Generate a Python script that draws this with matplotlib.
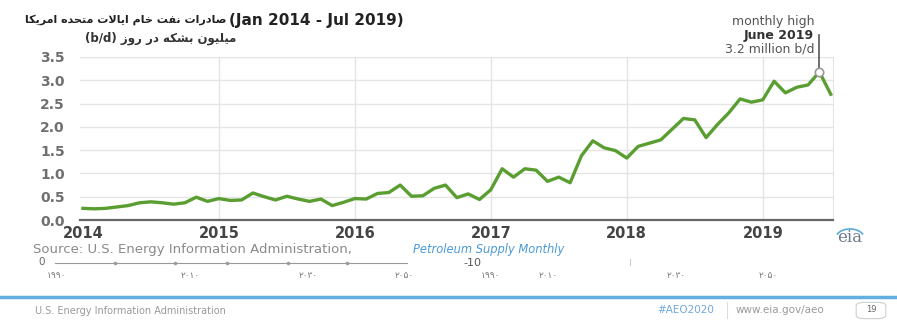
import numpy as np
import matplotlib
matplotlib.use("Agg")
import matplotlib.pyplot as plt
from matplotlib.lines import Line2D
from matplotlib.patches import FancyBboxPatch

# monthly US crude oil exports, million b/d, Jan 2014 .. Jul 2019
exports = [
    0.25, 0.24, 0.25, 0.28, 0.31, 0.37, 0.39, 0.37, 0.34, 0.37, 0.49, 0.40,  # 2014
    0.46, 0.42, 0.43, 0.58, 0.50, 0.43, 0.51, 0.45, 0.40, 0.45, 0.31, 0.38,  # 2015
    0.46, 0.45, 0.57, 0.59, 0.75, 0.51, 0.52, 0.68, 0.75, 0.48, 0.56, 0.44,  # 2016
    0.65, 1.10, 0.92, 1.10, 1.07, 0.83, 0.92, 0.80, 1.38, 1.70, 1.55, 1.49,  # 2017
    1.33, 1.58, 1.65, 1.72, 1.95, 2.18, 2.15, 1.77, 2.05, 2.30, 2.60, 2.53,  # 2018
    2.58, 2.98, 2.73, 2.85, 2.90, 3.18, 2.70,                                # 2019
]
years = ["2014", "2015", "2016", "2017", "2018", "2019"]
y_ticks = [0.0, 0.5, 1.0, 1.5, 2.0, 2.5, 3.0, 3.5]
high_month = 65  # June 2019

title_fa = "صادرات نفت خام ایالات متحده امریکا"
title_en = "(Jan 2014 - Jul 2019)"
unit_fa = "میلیون بشکه در روز"
note_lines = ["monthly high", "June 2019", "3.2 million b/d"]
fa_digits = ["۱۹۹۰", "۲۰۱۰", "۲۰۳۰", "۲۰۵۰"]

W, H = 897, 320

FORMS = {
    'ا': ('\uFE8D', '\uFE8E', None, None),
    'ب': ('\uFE8F', '\uFE90', '\uFE91', '\uFE92'),
    'ت': ('\uFE95', '\uFE96', '\uFE97', '\uFE98'),
    'ح': ('\uFEA1', '\uFEA2', '\uFEA3', '\uFEA4'),
    'خ': ('\uFEA5', '\uFEA6', '\uFEA7', '\uFEA8'),
    'د': ('\uFEA9', '\uFEAA', None, None),
    'ر': ('\uFEAD', '\uFEAE', None, None),
    'ز': ('\uFEAF', '\uFEB0', None, None),
    'ش': ('\uFEB5', '\uFEB6', '\uFEB7', '\uFEB8'),
    'ص': ('\uFEB9', '\uFEBA', '\uFEBB', '\uFEBC'),
    'ف': ('\uFED1', '\uFED2', '\uFED3', '\uFED4'),
    'ل': ('\uFEDD', '\uFEDE', '\uFEDF', '\uFEE0'),
    'م': ('\uFEE1', '\uFEE2', '\uFEE3', '\uFEE4'),
    'ن': ('\uFEE5', '\uFEE6', '\uFEE7', '\uFEE8'),
    'ه': ('\uFEE9', '\uFEEA', '\uFEEB', '\uFEEC'),
    'و': ('\uFEED', '\uFEEE', None, None),
    'ک': ('\uFB8E', '\uFB8F', '\uFB90', '\uFB91'),
    'ی': ('\uFBFC', '\uFBFD', '\uFBFE', '\uFBFF'),
}
LAM_ALEF = ('\uFEFB', '\uFEFC')


def shape_fa(text):
    """Join Persian letters and flip to visual order (matplotlib has no bidi)"""
    out = []
    prev_joins = False
    i = 0
    while i < len(text):
        c = text[i]
        if c not in FORMS:
            out.append(c)
            prev_joins = False
            i += 1
            continue
        if c == 'ل' and i + 1 < len(text) and text[i + 1] == 'ا':
            out.append(LAM_ALEF[1] if prev_joins else LAM_ALEF[0])
            prev_joins = False
            i += 2
            continue
        f = FORMS[c]
        nxt = text[i + 1] if i + 1 < len(text) else ''
        joins_next = f[2] is not None and nxt in FORMS
        if prev_joins and joins_next:
            g = f[3]
        elif prev_joins:
            g = f[1]
        elif joins_next:
            g = f[2]
        else:
            g = f[0]
        out.append(g)
        prev_joins = f[2] is not None
        i += 1
    return ''.join(reversed(out))


def px(x, y):
    return x / W, 1 - y / H


fig = plt.figure(figsize=(W / 100, H / 100), dpi=100)
fig.patch.set_facecolor("white")

ax_left, ax_right, ax_top, ax_bottom = 80, 833, 57, 220
ax = fig.add_axes([ax_left / W, 1 - ax_bottom / H, (ax_right - ax_left) / W, (ax_bottom - ax_top) / H])

months = np.arange(len(exports))
ax.set_xlim(-0.26, 66.2)
ax.set_ylim(0, 3.5)

for v in y_ticks[1:]:
    ax.axhline(v, color="#e4e4e4", lw=1, zorder=0)
year_pos = [12 * i for i in range(len(years))]
for p in year_pos[1:]:
    ax.axvline(p, color="#e4e4e4", lw=1, zorder=0)

ax.plot(months, exports, color="#5a9e32", lw=2.4, solid_joinstyle="round", zorder=3)

# June 2019 callout
ax.plot([high_month, high_month], [exports[high_month], 3.97], color="#555555", lw=1.2,
        clip_on=False, zorder=2)
ax.plot(high_month, exports[high_month], "o", ms=6, mfc="white", mec="#999999", mew=1.2,
        zorder=4, clip_on=False)

for s in ["top", "left"]:
    ax.spines[s].set_visible(False)
ax.spines["right"].set_color("#e4e4e4")
ax.spines["bottom"].set_color("#666666")
ax.spines["bottom"].set_linewidth(1.6)

ax.set_yticks(y_ticks)
ax.set_yticklabels([f"{v:.1f}" for v in y_ticks])
ax.set_xticks(year_pos)
ax.set_xticklabels(years)
ax.tick_params(axis="y", length=0, pad=11, labelsize=10, labelcolor="#707070")
ax.tick_params(axis="x", length=0, pad=4, labelsize=10.5, labelcolor="#444444")
for lbl in ax.get_xticklabels() + ax.get_yticklabels():
    lbl.set_fontweight("bold")

fam = ["DejaVu Sans"]

# title lines
fig.text(*px(226, 20), shape_fa(title_fa), fontsize=8, fontweight="bold",
         color="#222222", va="center", ha="right", family=fam)
fig.text(*px(229, 20), title_en, fontsize=11, fontweight="bold",
         color="#222222", va="center", ha="left", family=fam)
fig.text(*px(85, 38), "(b/d) " + shape_fa(unit_fa), fontsize=8.5, fontweight="bold",
         color="#333333", va="center", ha="left", family=fam)

# callout text
fig.text(*px(814, 21.5), note_lines[0], fontsize=9, color="#555555", ha="right", va="center")
fig.text(*px(814, 35), note_lines[1], fontsize=9, color="#333333", fontweight="bold",
         ha="right", va="center")
fig.text(*px(814, 48.5), note_lines[2], fontsize=9, color="#555555", ha="right", va="center")

# source line
fig.text(*px(33, 249), "Source: U.S. Energy Information Administration,", fontsize=9.5,
         color="#8a8a8a", ha="left", va="center")
fig.text(*px(413, 249), "Petroleum Supply Monthly", fontsize=8.3, color="#4a9ad8",
         style="italic", ha="left", va="center")

# eia logo
fig.text(*px(850, 237), "eia", fontsize=12, color="#6d7b8c", family="DejaVu Serif",
         ha="center", va="center")
t = np.linspace(0.15 * np.pi, 0.85 * np.pi, 20)
fig.add_artist(Line2D((850 + 14 * np.cos(t)) / W, 1 - (238 - 9 * np.sin(t)) / H,
                      color="#5aa9d8", lw=1.2))

# stray scale row from the slide
fig.text(*px(42, 262), "0", fontsize=7.5, color="#666666", ha="center", va="center")
fig.add_artist(Line2D([55 / W, 407 / W], [1 - 263 / H, 1 - 263 / H], color="#999999", lw=0.8))
for xd in [115, 175, 227, 288, 347]:
    fig.add_artist(Line2D([xd / W], [1 - 263 / H], marker="o", ms=1.5, color="#999999"))
fig.text(*px(472, 263), "-10", fontsize=8, color="#555555", ha="center", va="center")
fig.add_artist(Line2D([630 / W, 630 / W], [1 - 259 / H, 1 - 265 / H], color="#cccccc", lw=0.8))
for xd, lab in zip([56, 190, 308, 404, 490, 548, 676, 768], fa_digits * 2):
    fig.text(*px(xd, 275), lab, fontsize=6.5, color="#777777", ha="center", va="center",
             family=fam)

# slide footer
fig.add_artist(Line2D([0, 1], [1 - 297 / H, 1 - 297 / H], color="#62b0e0", lw=2.5))
fig.text(*px(35, 311), "U.S. Energy Information Administration", fontsize=7,
         color="#9a9a9a", ha="left", va="center")
fig.text(*px(686, 310), "#AEO2020", fontsize=7.5, color="#6fa8dc", ha="center", va="center")
fig.add_artist(Line2D([727 / W, 727 / W], [1 - 302 / H, 1 - 318 / H], color="#dddddd", lw=0.8))
fig.text(*px(780, 310), "www.eia.gov/aeo", fontsize=7.5, color="#9a9a9a", ha="center", va="center")
fig.add_artist(FancyBboxPatch((858 / W, 1 - 318 / H), 26 / W, 15 / H,
                              boxstyle="round,pad=0.002,rounding_size=0.01",
                              transform=fig.transFigure, fc="white", ec="#cfcfcf", lw=0.8))
fig.text(*px(871, 310), "19", fontsize=6, color="#666666", ha="center", va="center")

fig.savefig("out.png", dpi=100, facecolor="white")
